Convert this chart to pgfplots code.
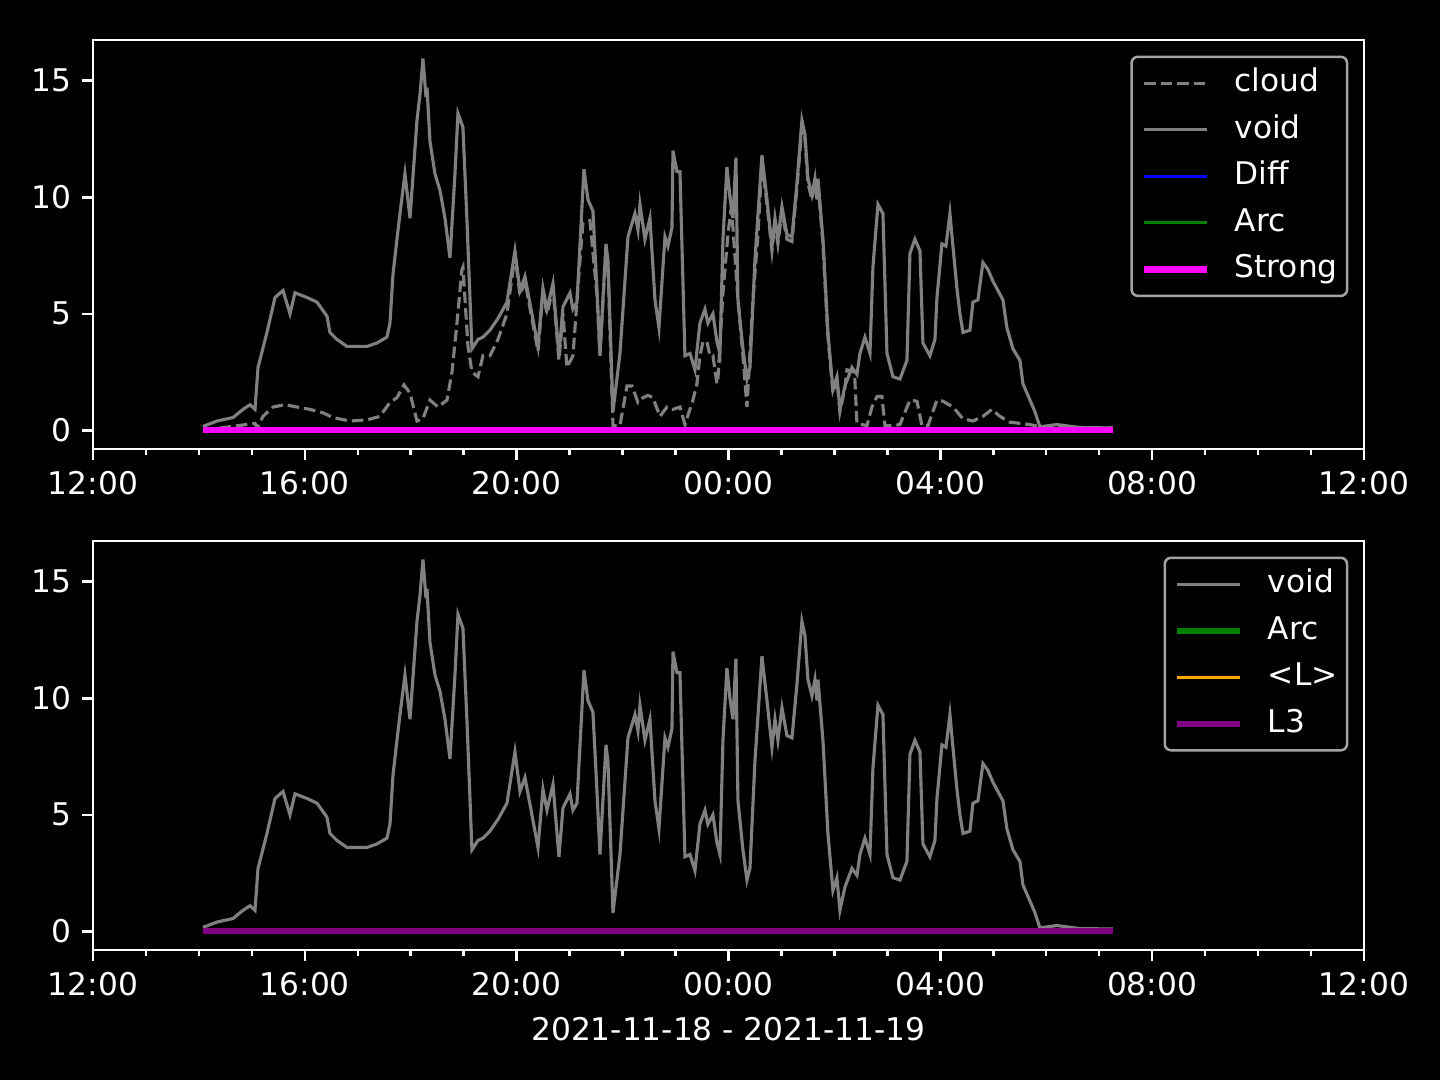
\documentclass[border=0pt]{standalone}
\usepackage{fontspec}
\setmainfont{DejaVu Sans}
\usepackage{pgfplots}
\usepackage{pgfplotstable}
\pgfplotsset{compat=1.18}
\definecolor{mgray}{HTML}{808080}
\definecolor{mblue}{HTML}{0000FF}
\definecolor{mgreen}{HTML}{008000}
\definecolor{mmagenta}{HTML}{FF00FF}
\definecolor{morange}{HTML}{FFA500}
\definecolor{mpurple}{HTML}{800080}
\definecolor{legedge}{HTML}{A3A3A3}

\pgfplotstableread{
h v
2.077 0.17
2.341 0.4
2.644 0.55
2.832 0.9
2.965 1.1
3.059 0.9
3.116 2.7
3.285 4.2
3.437 5.7
3.588 6.0
3.720 5.0
3.814 5.9
4.041 5.7
4.230 5.5
4.418 4.9
4.475 4.2
4.607 3.9
4.796 3.6
5.174 3.6
5.363 3.75
5.551 4.0
5.608 4.6
5.665 6.7
5.740 8.2
5.797 9.3
5.891 11.0
5.986 9.1
6.118 13.3
6.174 14.4
6.231 15.95
6.288 14.3
6.307 14.7
6.363 12.4
6.458 11.0
6.552 10.3
6.647 9.1
6.741 7.4
6.835 11.0
6.892 13.6
6.986 13.0
7.062 9.0
7.156 3.5
7.270 3.9
7.364 4.0
7.496 4.3
7.647 4.8
7.817 5.5
7.968 7.7
8.063 6.0
8.157 6.6
8.403 3.6
8.497 6.1
8.573 5.2
8.686 6.3
8.799 3.2
8.875 5.3
9.007 5.9
9.063 5.2
9.139 5.5
9.271 11.2
9.347 9.9
9.441 9.4
9.517 6.0
9.573 3.3
9.687 8.0
9.724 7.3
9.819 0.8
9.951 3.3
10.102 8.3
10.234 9.3
10.291 8.6
10.329 9.7
10.423 8.2
10.517 9.1
10.612 5.6
10.687 4.4
10.801 8.3
10.857 7.9
10.933 8.7
10.952 12.0
11.027 11.1
11.084 11.1
11.178 3.2
11.273 3.3
11.367 2.6
11.461 4.6
11.556 5.2
11.612 4.6
11.707 5.0
11.782 3.8
11.839 3.3
11.896 8.2
11.971 11.3
12.028 10.0
12.085 9.1
12.141 11.7
12.179 5.6
12.273 3.5
12.349 2.2
12.406 2.7
12.500 7.3
12.632 11.8
12.727 9.9
12.821 7.9
12.878 9.1
12.934 8.2
13.010 9.6
13.104 8.4
13.199 8.3
13.293 10.6
13.387 13.3
13.444 12.7
13.501 10.8
13.576 10.1
13.633 10.8
13.671 9.9
13.690 10.8
13.784 8.2
13.878 4.2
13.973 1.75
14.048 2.3
14.105 0.9
14.199 1.9
14.332 2.7
14.426 2.4
14.483 3.3
14.577 4.0
14.672 3.3
14.728 7.0
14.823 9.7
14.917 9.3
14.993 3.3
15.106 2.3
15.238 2.2
15.370 3.0
15.427 7.6
15.521 8.2
15.616 7.7
15.672 3.75
15.804 3.2
15.899 3.9
15.937 5.7
16.031 8.0
16.107 7.9
16.182 9.3
16.239 7.9
16.314 6.1
16.371 5.0
16.428 4.2
16.560 4.3
16.616 5.5
16.711 5.6
16.805 7.2
16.900 6.9
16.994 6.4
17.088 6.0
17.183 5.6
17.258 4.4
17.372 3.5
17.504 3.0
17.560 2.0
17.693 1.3
17.787 0.8
17.881 0.15
18.202 0.25
18.636 0.12
19.260 0.1
}\voidtab

\pgfplotstableread{
h v
2.077 0.0
3.059 0.3
3.097 0.1
3.210 0.6
3.399 1.0
3.626 1.1
3.852 1.0
4.098 0.9
4.343 0.75
4.532 0.55
4.853 0.4
5.174 0.45
5.419 0.6
5.608 1.2
5.740 1.4
5.872 1.95
5.986 1.6
6.118 0.4
6.231 0.5
6.363 1.3
6.515 1.0
6.685 1.3
6.779 2.5
6.873 4.6
6.967 6.9
6.986 7.0
7.081 3.6
7.156 2.5
7.270 2.3
7.364 3.2
7.496 3.2
7.647 3.9
7.817 5.0
7.968 7.5
8.063 5.8
8.157 6.4
8.403 3.4
8.497 5.9
8.573 5.0
8.686 6.1
8.799 3.0
8.875 5.0
8.950 2.7
9.063 3.2
9.196 7.3
9.252 8.9
9.384 9.0
9.517 5.8
9.573 3.2
9.687 7.8
9.724 7.1
9.819 0.2
9.951 0.2
10.083 1.9
10.178 1.9
10.291 1.2
10.385 1.4
10.480 1.5
10.574 1.4
10.706 0.6
10.838 1.0
10.952 0.9
11.084 1.0
11.178 0.25
11.329 1.3
11.405 2.0
11.461 3.2
11.518 3.8
11.594 3.8
11.650 3.2
11.707 3.2
11.782 2.0
11.801 2.2
11.896 5.9
11.990 8.4
12.050 9.5
12.085 8.7
12.179 5.6
12.273 3.2
12.349 1.0
12.462 5.6
12.557 8.4
12.632 11.5
12.727 9.7
12.821 7.7
12.878 8.9
12.934 8.0
13.010 9.4
13.104 8.2
13.199 8.1
13.293 10.4
13.387 13.0
13.444 12.5
13.501 10.6
13.576 9.9
13.633 10.6
13.690 10.6
13.784 8.0
13.878 4.0
13.973 1.6
14.048 2.2
14.105 0.8
14.199 1.8
14.237 2.6
14.380 2.5
14.426 0.3
14.615 0.2
14.709 1.0
14.804 1.45
14.898 1.45
14.955 0.2
15.106 0.2
15.238 0.25
15.427 1.3
15.559 1.25
15.653 0.2
15.767 0.2
15.937 1.3
16.050 1.25
16.239 1.0
16.428 0.5
16.616 0.4
16.805 0.6
16.975 0.9
17.126 0.6
17.315 0.35
17.504 0.3
17.693 0.25
17.881 0.15
19.260 0.1
}\cloudtab

\pgfplotsset{
  mplaxis/.style={
    scale only axis,
    width=406.7pt, height=130.9pt,
    xmin=0, xmax=24, ymin=-0.8, ymax=16.75,
    xtick={0,4,8,12,16,20,24},
    xticklabels={12:00,16:00,20:00,00:00,04:00,08:00,12:00},
    minor xtick={1,2,3,5,6,7,9,10,11,13,14,15,17,18,19,21,22,23},
    ytick={0,5,10,15},
    /pgf/number format/assume math mode=true,
    axis background/.style={fill=black},
    axis line style={white, line width=0.8pt},
    every tick/.style={white, line width=0.8pt},
    major tick length=3.5pt, minor tick length=2pt,
    tick align=outside,
    xtick pos=bottom, ytick pos=left,
    ticklabel style={text=white, font=\fontsize{10}{12}\selectfont},
    label style={text=white, font=\fontsize{10}{12}\selectfont},
    legend cell align=left,
    legend image code/.code={\draw[#1] (0pt,0pt) -- (20pt,0pt);},
    legend style={
      at={(1,1)}, anchor=north east, xshift=-5pt, yshift=-5pt,
      draw=legedge, line width=0.8pt, fill=black, text=white,
      rounded corners=2pt,
      font=\fontsize{10}{12}\selectfont,
      nodes={inner sep=0pt, text height=7.6pt, text depth=2.3pt},
      row sep=5pt, inner xsep=3pt, inner ysep=3.5pt,
      /tikz/every odd column/.append style={column sep=8pt},
    },
  }
}

\begin{document}
\begin{tikzpicture}[x=1pt,y=1pt]
\fill[black] (0,0) rectangle (460.8,345.6);

\begin{axis}[mplaxis, at={(29.76pt,201.92pt)}, anchor=south west]
\addplot[mgray, line width=1pt, dash pattern=on 3.7pt off 1.6pt] table[x=h,y=v] {\cloudtab};
\addlegendentry{cloud}
\addplot[mgray, line width=1pt] table[x=h,y=v] {\voidtab};
\addlegendentry{void}
\addplot[mblue, line width=1pt] coordinates {(2.08,0) (19.26,0)};
\addlegendentry{Diff}
\addplot[mgreen, line width=1pt] coordinates {(2.08,0) (19.26,0)};
\addlegendentry{Arc}
\addplot[mmagenta, line width=2pt] coordinates {(2.08,0) (19.26,0)};
\addlegendentry{Strong}
\end{axis}

\begin{axis}[mplaxis, at={(29.76pt,41.6pt)}, anchor=south west,
  xlabel={2021-11-18 - 2021-11-19}]
\addplot[mgray, line width=1pt] table[x=h,y=v] {\voidtab};
\addlegendentry{void}
\addplot[mgreen, line width=2pt] coordinates {(2.08,0) (19.26,0)};
\addlegendentry{Arc}
\addplot[morange, line width=1pt] coordinates {(2.08,0) (19.26,0)};
\addlegendentry{<L>}
\addplot[mpurple, line width=2pt] coordinates {(2.08,0) (19.26,0)};
\addlegendentry{L3}
\end{axis}
\end{tikzpicture}
\end{document}
